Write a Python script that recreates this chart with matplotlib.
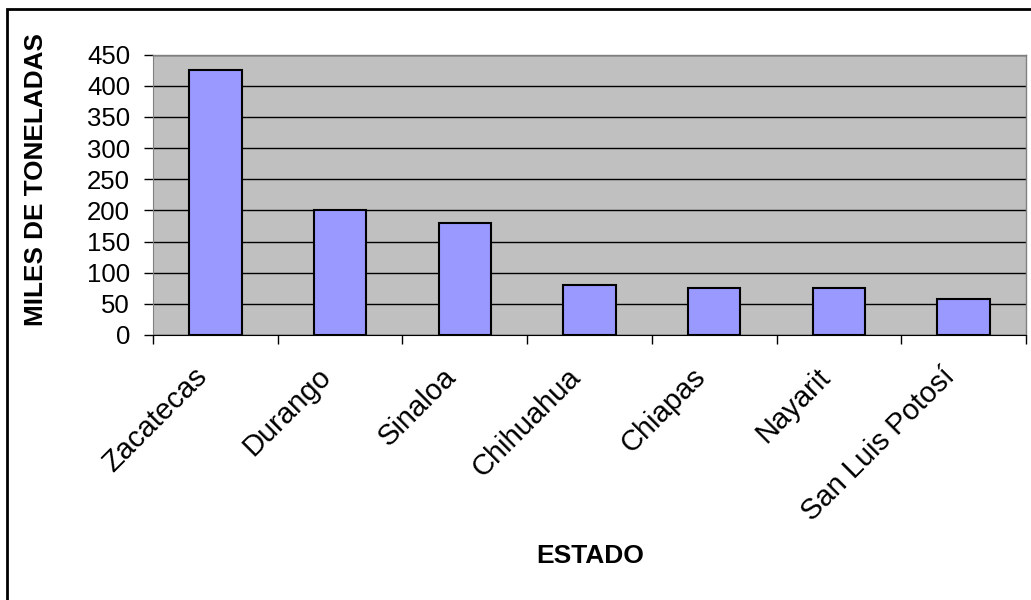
import matplotlib
matplotlib.use("Agg")
import matplotlib.pyplot as plt
from matplotlib.patches import Rectangle
from matplotlib.transforms import ScaledTranslation
import numpy as np

categories = ["Zacatecas", "Durango", "Sinaloa", "Chihuahua", "Chiapas", "Nayarit", "San Luis Potosí"]
values = [425, 200, 180, 80, 75, 75, 58]
yticks = [0, 50, 100, 150, 200, 250, 300, 350, 400, 450]

plt.rcParams['font.family'] = ['Liberation Sans', 'DejaVu Sans']

W, H = 1031, 600
fig = plt.figure(figsize=(W/100, H/100), dpi=100)
fig.patch.set_facecolor('white')

left, right, top, bottom = 153, 1026, 54.7, 335
ax = fig.add_axes([left/W, 1-bottom/H, (right-left)/W, (bottom-top)/H])
ax.set_facecolor('#C0C0C0')

x = np.arange(len(categories))
ax.set_axisbelow(True)
ax.yaxis.grid(True, color='black', linewidth=1)
ax.bar(x, values, width=0.42, color='#9999FF', edgecolor='black', linewidth=1.5, zorder=3)

ax.set_xlim(-0.5, len(categories)-0.5)
ax.set_ylim(0, 450)
ax.set_yticks(yticks)
ax.set_yticklabels([str(v) for v in yticks], fontsize=18.5)
ax.tick_params(axis='y', length=6.5, width=1, color='black', pad=10)

ax.set_xticks(np.arange(len(categories)+1) - 0.5)
ax.set_xticklabels([])
ax.tick_params(axis='x', length=6.5, width=1, color='black')
ax.set_xticks(x, minor=True)
ax.set_xticklabels(categories, minor=True, rotation=45, rotation_mode='anchor',
                   ha='right', va='center', fontsize=21)
ax.tick_params(axis='x', which='minor', length=0, pad=27)
offset = ScaledTranslation(-0.13, 0, fig.dpi_scale_trans)
for lbl in ax.get_xticklabels(minor=True):
    lbl.set_transform(lbl.get_transform() + offset)

for s in ['top', 'right']:
    ax.spines[s].set_color('#808080')
    ax.spines[s].set_linewidth(1)
ax.spines['left'].set_color('#808080')
ax.spines['bottom'].set_color('black')

fig.text(590/W, 1-556/H, "ESTADO", ha='center', va='center', fontsize=19, fontweight='bold')
fig.text(36/W, 1-180/H, "MILES DE TONELADAS", ha='center', va='center', rotation=90,
         fontsize=18.8, fontweight='bold')

fig.patches.append(Rectangle((7/W, -0.1), 1.2, 1-9/H+0.1, transform=fig.transFigure,
                             fill=False, edgecolor='black', linewidth=2))

fig.savefig('out.png', dpi=100)
